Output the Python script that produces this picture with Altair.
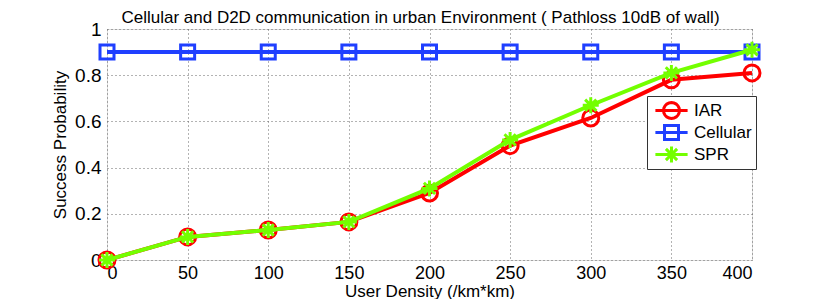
import math
import altair as alt
import pandas as pd

density = [0, 50, 100, 150, 200, 250, 300, 350, 400]
iar = [0.0, 0.10, 0.13, 0.165, 0.29, 0.495, 0.615, 0.78, 0.81]
cellular = [0.9, 0.9, 0.9, 0.9, 0.9, 0.9, 0.9, 0.9, 0.9]
spr = [0.0, 0.10, 0.13, 0.165, 0.31, 0.52, 0.67, 0.81, 0.91]
y_ticks = [0, 0.2, 0.4, 0.6, 0.8, 1]

series_names = ["IAR", "Cellular", "SPR"]
series_colors = ["#ff0000", "#1f3fff", "#73ff00"]

rows = []
for name, vals in zip(series_names, [iar, cellular, spr]):
    for d, v in zip(density, vals):
        rows.append({"density": d, "p": v, "series": name})
df = pd.DataFrame(rows)

FONT = "Liberation Sans"
asterisk = "M0,-1L0,1M-1,0L1,0M-0.7,-0.7L0.7,0.7M-0.7,0.7L0.7,-0.7"
marker_shapes = ["circle", "square", asterisk]
marker_sizes = [256, 196, 256]

# legend glyphs (unit = 7 px): a line segment with the marker drawn on it
ring = "M" + "L".join(
    f"{1.14 * math.cos(2 * math.pi * k / 20):.3f},{1.14 * math.sin(2 * math.pi * k / 20):.3f}"
    for k in range(20)
) + "Z"
legend_paths = [
    "M-2.3,0L2.3,0" + ring,
    "M-2.3,0L2.3,0M-1,-1L1,-1L1,1L-1,1Z",
    "M-2.3,0L2.3,0M0,-1.14L0,1.14M-0.8,-0.8L0.8,0.8M-0.8,0.8L0.8,-0.8",
]

x_enc = alt.X(
    "density:Q",
    scale=alt.Scale(domain=[0, 400], nice=False),
    axis=alt.Axis(
        values=density, title="User Density (/km*km)", ticks=False, domain=False,
        labelFontSize=18, labelPadding=4, labelFont=FONT, labelColor="black",
        titleFont=FONT, titleFontSize=17, titleFontWeight="normal", titleColor="black",
        titleX=322.5, titleY=36, titleBaseline="alphabetic",
        grid=True, gridDash=[1, 3], gridColor="#666", gridOpacity=1,
    ),
)
y_enc = alt.Y(
    "p:Q",
    scale=alt.Scale(domain=[0, 1], nice=False),
    axis=alt.Axis(
        values=y_ticks, format="~g", title="Success Probability", ticks=False, domain=False,
        labelFontSize=19, labelPadding=6, labelFont=FONT, labelColor="black",
        titleFont=FONT, titleFontSize=17, titleFontWeight="normal", titleColor="black",
        titleX=-41.5, titleY=115.5, titleBaseline="alphabetic",
        grid=True, gridDash=[1, 3], gridColor="#666", gridOpacity=1,
    ),
)

base = alt.Chart(df)
layers = []
for name, col, shp, sz in zip(series_names, series_colors, marker_shapes, marker_sizes):
    sub = base.transform_filter(alt.datum.series == name)
    layers.append(sub.mark_line(strokeWidth=4, color=col).encode(x=x_enc, y=y_enc))
    layers.append(
        sub.mark_point(filled=False, strokeWidth=3, color=col, shape=shp, size=sz, opacity=1)
        .encode(x=x_enc, y=y_enc)
    )

leg = alt.Legend(
    title=None, orient="none", legendX=540, legendY=67,
    padding=4, rowPadding=1, symbolSize=196, symbolStrokeWidth=3, clipHeight=21,
    symbolOffset=12, labelOffset=14,
    labelFont=FONT, labelFontSize=17, labelColor="black",
    strokeColor="#333", fillColor="white", cornerRadius=0,
)
legend_layer = base.transform_filter("datum.p < -1").mark_point(filled=False, strokeWidth=3, opacity=1).encode(
    x=x_enc, y=y_enc,
    color=alt.Color("series:N", scale=alt.Scale(domain=series_names, range=series_colors), legend=leg),
    shape=alt.Shape("series:N", scale=alt.Scale(domain=series_names, range=legend_paths), legend=leg),
)
layers.append(legend_layer)

chart = alt.layer(*layers).properties(
    width=645, height=231,
    autosize=alt.AutoSizeParams(type="none"),
    padding={"left": 99, "top": 21, "right": 70, "bottom": 39},
    title=alt.TitleParams(
        "Cellular and D2D communication in urban Environment ( Pathloss 10dB of wall)",
        font=FONT, fontSize=17, fontWeight="normal", color="black",
        anchor="middle", frame="group", offset=5, dx=-9, dy=12,
    ),
).configure_view(stroke="#7f7f7f", strokeWidth=1).configure(background="white")

chart.save("out.html", embed_options={"renderer": "svg", "actions": False})
